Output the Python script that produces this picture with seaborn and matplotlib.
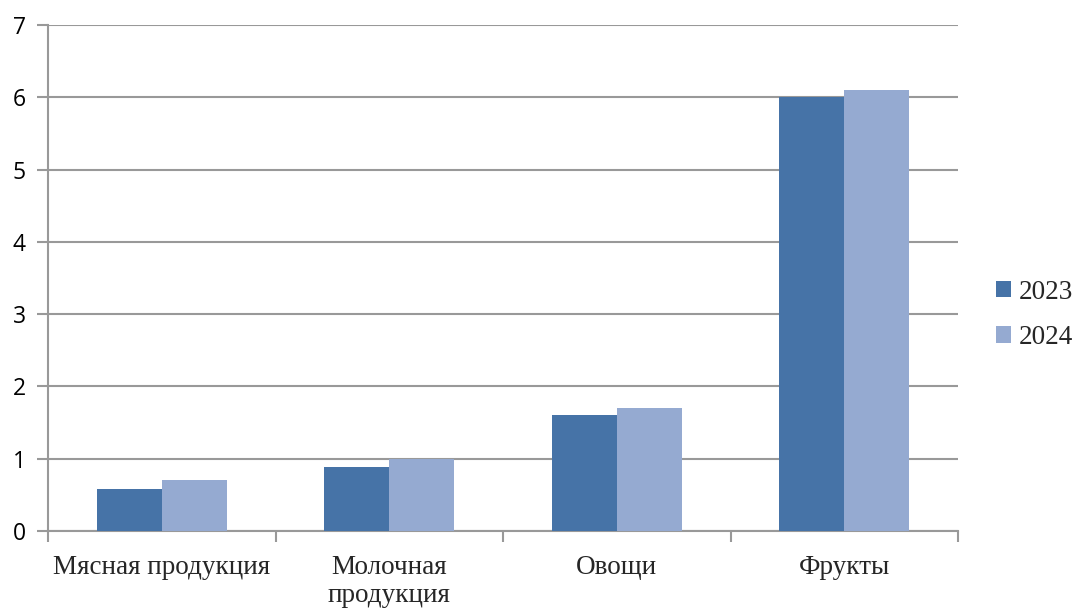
import matplotlib
matplotlib.use("Agg")
import matplotlib.pyplot as plt
import seaborn as sns
import pandas as pd
from matplotlib.ticker import FixedLocator
from matplotlib.font_manager import FontProperties
from matplotlib.patches import Patch

categories = ["Мясная продукция", "Молочная\nпродукция", "Овощи", "Фрукты"]
years = ["2023", "2024"]
values_2023 = [0.58, 0.88, 1.6, 6.0]
values_2024 = [0.7, 1.0, 1.7, 6.1]
yticks = [0, 1, 2, 3, 4, 5, 6, 7]

df = pd.DataFrame({
    "cat": categories * 2,
    "year": [years[0]] * 4 + [years[1]] * 4,
    "val": values_2023 + values_2024,
})

sns.set_theme(style="white")
plt.rcParams["font.family"] = ["Liberation Serif", "DejaVu Sans"]
fig = plt.figure(figsize=(10.77, 6.08), dpi=100)
ax = fig.add_axes([48/1077, 77/608, 910/1077, 506/608])

palette = {"2023": "#4673A7", "2024": "#95AAD1"}
sns.barplot(data=df, x="cat", y="val", hue="year", palette=palette,
            width=0.57, saturation=1, ax=ax, legend=False, zorder=3,
            linewidth=0, edgecolor="none")

ax.set_ylim(0, 7)
ax.set_xlim(-0.5, 3.5)
ax.set_yticks(yticks)
ax.grid(axis="y", color="#999999", linewidth=1.5, zorder=0)
ax.set_axisbelow(True)
for s in ["top", "right"]:
    ax.spines[s].set_visible(False)
for s in ["left", "bottom"]:
    ax.spines[s].set_color("#999999")
    ax.spines[s].set_linewidth(1.5)

ax.set_xlabel("")
ax.set_ylabel("")
ax.tick_params(axis="x", which="major", length=0, pad=17)
ax.xaxis.set_minor_locator(FixedLocator([-0.5, 0.5, 1.5, 2.5, 3.5]))
ax.tick_params(axis="x", which="minor", length=8, width=1.5, color="#999999", direction="out", bottom=True)
ax.tick_params(axis="y", length=8, width=1.5, color="#999999", direction="out", left=True, pad=8)

serif_x = FontProperties(family="Liberation Serif", size=19.5)
for lbl in ax.get_xticklabels():
    lbl.set_fontproperties(serif_x)
    lbl.set_linespacing(1.2)
    lbl.set_verticalalignment("top")
for lbl in ax.get_yticklabels():
    lbl.set_fontproperties(FontProperties(family="Open Sans", size=16.5))
    lbl.set_color("black")

handles = [Patch(facecolor=palette[y], edgecolor="none") for y in years]
leg = fig.legend(handles, years, loc="center left", bbox_to_anchor=(0.925, 0.482),
                 frameon=False, fontsize=19.5,
                 handlelength=0.55, handleheight=0.55, handletextpad=0.3, labelspacing=0.76,
                 borderaxespad=0, borderpad=0)
for t in leg.get_texts():
    t.set_fontproperties(FontProperties(family="Liberation Serif", size=19.5))

fig.savefig("out.png", dpi=100)
